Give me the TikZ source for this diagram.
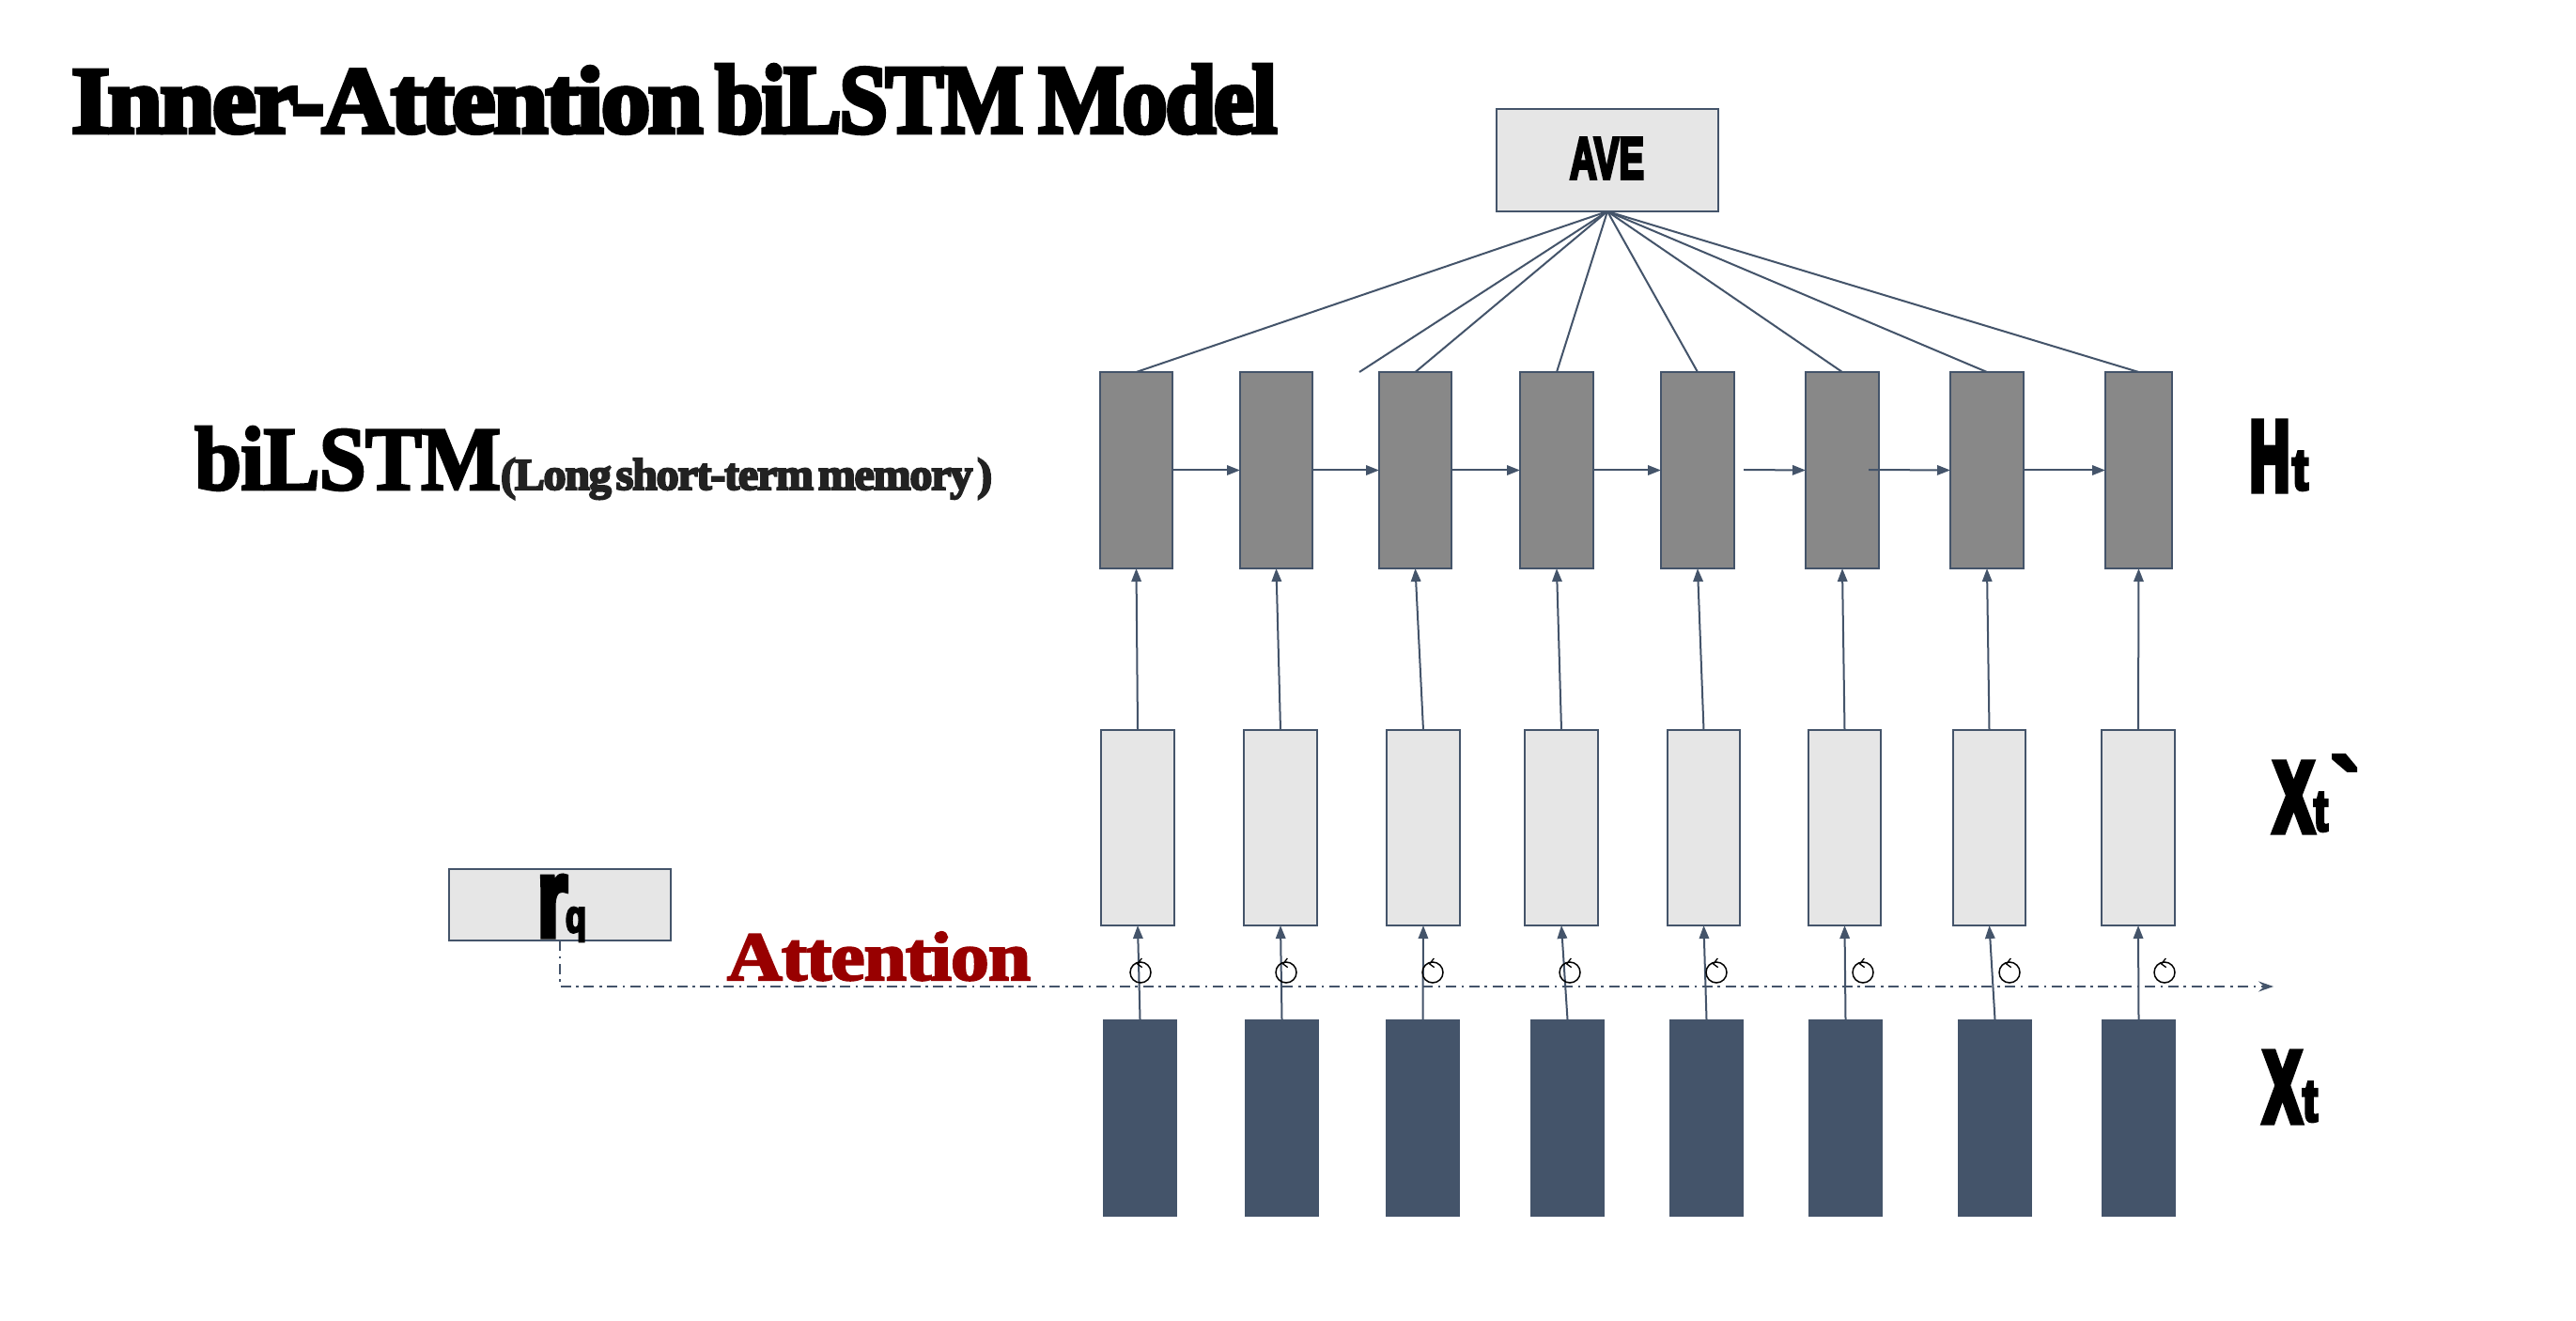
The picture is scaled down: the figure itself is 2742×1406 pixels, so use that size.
\documentclass[tikz,border=0pt]{standalone}
\usepackage{fontspec}
\usepackage{graphicx}
\usetikzlibrary{arrows.meta,fit}
\newfontfamily\fatserif[FakeBold=4.5,LetterSpace=-2.5,WordSpace=0.45]{Liberation Serif Bold}
\newfontfamily\midserif[FakeBold=3,LetterSpace=-1]{Liberation Serif Bold}
\newfontfamily\fatsans[FakeBold=6]{Liberation Sans Bold}
\newfontfamily\blacksans[FakeBold=9]{Liberation Sans Bold}
\definecolor{slate}{HTML}{44546A}
\definecolor{midgray}{HTML}{888888}
\definecolor{lightgray}{HTML}{E6E6E6}
\definecolor{attred}{HTML}{980000}
\definecolor{subtext}{HTML}{222222}
% width(px), height(px), text
\newcommand{\pxbox}[3]{\resizebox{\dimexpr #1pt/2\relax}{\dimexpr #2pt/2\relax}{#3}}
% name, x, baseline, width(px), height(px), text
\newcommand{\fitted}[6]{\node[anchor=base west,inner sep=0pt,outer sep=0pt] (#1) at (#2,#3)
  {\pxbox{#4}{#5}{#6}};}
\tikzset{
  x=0.5pt,y=-0.5pt,
  base box/.style={rectangle,inner sep=0pt,outer sep=0pt,draw=slate,line width=1.1pt},
  hbox/.style={base box,fill=midgray},
  ibox/.style={base box,fill=lightgray},
  xbox/.style={rectangle,inner sep=0pt,outer sep=0pt,fill=slate},
  link/.style={draw=slate,line width=1pt},
  arrowlink/.style={link,-{Triangle[length=7pt,width=5.2pt]}},
  attline/.style={draw=slate,line width=1.05pt,dash pattern=on 5.5pt off 2.8pt on 1.3pt off 2.8pt,
    -{Stealth[length=8pt,width=5.5pt,inset=3pt]}},
  opcircle/.style={circle,draw=black,line width=0.75pt,inner sep=0pt,minimum size=11pt},
  optick/.style={draw=black,line width=0.65pt}
}
\begin{document}
\begin{tikzpicture}
\useasboundingbox[fill=white] (0,0) rectangle (2742,1406);

% boxes
\foreach \i/\a/\b in {1/1171/1248,2/1320/1397,3/1468/1545,4/1618/1696,5/1768/1846,6/1922/2000,7/2076/2154,8/2241/2312}
  \node[hbox,fit={(\a,396)(\b,605)}] (h\i) {};
\foreach \i/\a/\b in {1/1172/1250,2/1324/1402,3/1476/1554,4/1623/1701,5/1775/1852,6/1925/2002,7/2079/2156,8/2237/2315}
  \node[ibox,fit={(\a,777)(\b,985)}] (p\i) {};
\foreach \i/\a/\b in {1/1174/1253,2/1325/1404,3/1475/1554,4/1629/1708,5/1777/1856,6/1925/2004,7/2084/2163,8/2237/2316}
  \node[xbox,fit={(\a,1085)(\b,1295)}] (x\i) {};
\node[ibox,fit={(1593,116)(1829,225)}] (ave) {};
\node[ibox,fit={(478,925)(714,1001)}] (rq) {};

% free ends
\coordinate (freeup) at (1447,396);
\coordinate (free5) at (1856,500);
\coordinate (free6) at (1989,500);
\coordinate (attcorner) at (rq.south |- 0,1050);
\coordinate (attend) at (2420,1050);

% connectors
\foreach \i in {1,...,8} {
  \draw[arrowlink] (x\i.north) -- (p\i.south);
  \draw[arrowlink] (p\i.north) -- (h\i.south);
}
\foreach \i in {1,3,4,5,6,7,8}
  \draw[link] (ave.south) -- (h\i.north);
\draw[link] (ave.south) -- (freeup);
\foreach \i/\j in {1/2,2/3,3/4,4/5,7/8}
  \draw[arrowlink] (h\i.east) -- (h\j.west);
\draw[arrowlink] (free5) -- (h6.west);
\draw[arrowlink] (free6) -- (h7.west);
\draw[attline] (rq.south) -- (attcorner) -- (attend);

% attention operators
\foreach \i/\a in {1/1214,2/1369,3/1525,4/1671,5/1827,6/1983,7/2139,8/2304} {
  \node[opcircle] (c\i) at (\a,1035) {};
  \draw[optick] ([shift={(1.3,-15)}]c\i.center) -- ([shift={(-3.3,-9)}]c\i.center) -- ([shift={(1.7,-5.4)}]c\i.center);
}

% texts
\node[anchor=base west,inner sep=0pt,outer sep=0pt] (title) at (76,141)
  {\fatserif\pxbox{672}{70}{Inner-Attention}\hspace{6.5pt}\pxbox{328}{72}{biLSTM}\hspace{8pt}\pxbox{254}{72}{Model}};
\fitted{bilstm}{207}{521}{326}{67}{\midserif biLSTM}
\fitted{longname}{533}{521}{523}{33}{\fatserif\color{subtext}(Long short-term memory )}
\fitted{atttext}{774}{1043}{323}{51}{\midserif\color{attred}Attention}
\fitted{avetext}{1671}{190}{79}{43}{\fatsans AVE}
\fitted{rr}{572}{996}{32}{63}{\fatsans r}
\fitted{rs}{602}{992}{22}{26}{\fatsans q}
\fitted{hh}{2395}{521}{42}{71}{\blacksans H}
\fitted{ht}{2440}{521}{17}{40}{\fatsans t}
\fitted{px}{2421}{884}{41}{71}{\blacksans X}
\fitted{pt}{2463}{884}{15}{40}{\fatsans t}
\fitted{pq}{2482}{872}{29}{67}{\fatsans `}
\fitted{xx}{2410}{1193}{39}{72}{\blacksans X}
\fitted{xt}{2451}{1193}{16}{41}{\fatsans t}
\end{tikzpicture}
\end{document}
